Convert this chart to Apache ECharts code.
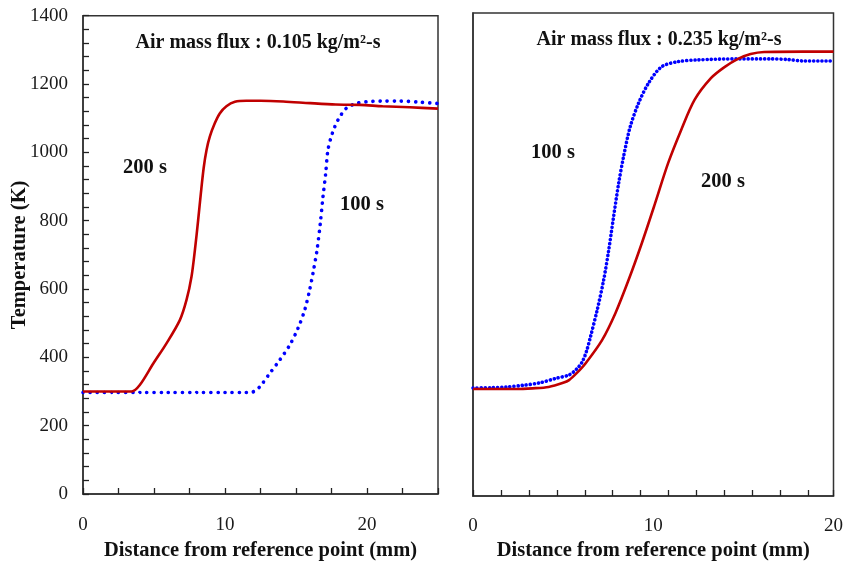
<!DOCTYPE html>
<html><head><meta charset="utf-8">
<script src="https://cdn.jsdelivr.net/npm/echarts@6/dist/echarts.min.js"></script>
<style>html,body{margin:0;padding:0;background:#fff}#c{width:846px;height:566px}</style>
</head><body><div id="c"></div>
<script>
// Left panel: air mass flux 0.105 kg/m2-s  [distance mm, temperature K]
const left200s = [[0,300],[1.5,300],[3,300],[3.42,300],[4.0,319],[4.95,382],[5.88,441],[6.82,509],[7.29,568],[7.64,636],[7.88,714],[8.11,802],[8.3,880],[8.5,955],[8.7,1007],[8.93,1046],[9.28,1085],[9.63,1114],[10.1,1135],[10.7,1148],[11.5,1151],[12.5,1151],[14.1,1149],[16,1144],[17.8,1140],[19.5,1139],[21.1,1135],[23,1132],[25,1128]];
const left100s = [[0,297],[2,297],[4,297],[6,297],[8,297],[10,297],[11.5,297],[11.98,299],[12.45,314],[13.15,353],[13.85,392],[14.56,436],[15.14,485],[15.61,538],[15.96,597],[16.24,656],[16.48,714],[16.71,792],[16.9,870],[17.09,938],[17.25,1007],[17.56,1056],[17.96,1095],[18.54,1129],[19.25,1143],[19.95,1148],[21,1150],[22.3,1150],[23.7,1147],[25,1143]];
// Right panel: air mass flux 0.235 kg/m2-s
const right100s = [[0,313],[1,314],[1.85,316],[2.8,321],[3.7,328],[4.6,341],[5.33,351],[5.75,368],[6.06,389],[6.3,420],[6.52,462],[6.89,539],[7.25,626],[7.53,713],[7.8,810],[8.08,906],[8.35,983],[8.72,1070],[9.18,1138],[9.73,1196],[10.46,1244],[11.37,1259],[12.47,1264],[14.7,1267],[16.5,1267],[17.5,1265],[18.3,1261],[20,1261]];
const right200s = [[0,310],[1,310],[2.4,310],[3.3,312],[4.2,316],[5.0,328],[5.33,336],[5.75,356],[6.25,385],[7.16,452],[7.9,530],[8.63,626],[9.36,732],[10.1,848],[10.82,964],[11.55,1061],[12.29,1148],[13.2,1211],[13.95,1243],[14.7,1267],[15.4,1281],[16.15,1287],[18.3,1288],[20,1288]];
const yTicks = [0,200,400,600,800,1000,1200,1400];
const xLabelsLeft = [0,10,20];
const xLabelsRight = [0,10,20];
const panelTitles = ['Air mass flux : 0.105 kg/m\u00B2-s','Air mass flux : 0.235 kg/m\u00B2-s'];
const curveLabels = ['200 s','100 s'];
const xName = 'Distance from reference point (mm)';
const yName = 'Temperature (K)';

const FONT = 'Liberation Serif';
const RED = '#c00000', BLUE = '#0000ff';
const chart = echarts.init(document.getElementById('c'));
const tickStyle = {show:true, inside:true, length:6, lineStyle:{color:'#222', width:1.3}};
const lbl = {fontFamily:FONT, fontSize:19, color:'#1a1a1a'};
const nameStyle = {fontFamily:FONT, fontSize:20.5, fontWeight:'bold', color:'#111'};
const SM = 0.3;
function txt(t, x, y, size) {
  return {type:'text', z:10, style:{text:t, x:x, y:y, align:'center', verticalAlign:'middle',
    fontFamily:FONT, fontWeight:'bold', fontSize:size, fill:'#111'}};
}

chart.setOption({
  animation:false,
  grid:[
    {left:83, top:15.7, right:408, bottom:72, show:true, borderColor:'#333', borderWidth:1.5, z:0},
    {left:473, top:13, right:9, bottom:70, show:true, borderColor:'#333', borderWidth:1.5, z:0}
  ],
  xAxis:[
    {type:'value', gridIndex:0, min:0, max:25, interval:2.5, splitLine:{show:false},
     axisLine:{show:true, lineStyle:{color:'#333', width:1.5}}, axisTick:tickStyle,
     axisLabel:Object.assign({margin:22, formatter:v => xLabelsLeft.includes(v) ? String(v) : ''}, lbl),
     name:xName, nameLocation:'middle', nameGap:46, nameMoveOverlap:false, nameTextStyle:nameStyle},
    {type:'value', gridIndex:1, min:0, max:20, interval:10, splitLine:{show:false},
     axisLine:{show:true, lineStyle:{color:'#333', width:1.5}}, axisTick:{show:false},
     axisLabel:Object.assign({margin:21, formatter:v => xLabelsRight.includes(v) ? String(v) : ''}, lbl),
     name:xName, nameLocation:'middle', nameGap:44, nameMoveOverlap:false, nameTextStyle:nameStyle},
    {type:'value', gridIndex:1, min:0, max:20, interval:1.55, position:'bottom', splitLine:{show:false},
     axisLine:{show:false}, axisTick:tickStyle, axisLabel:{show:false}}
  ],
  yAxis:[
    {type:'value', gridIndex:0, min:0, max:1400, interval:200, splitLine:{show:false},
     axisLine:{show:true, lineStyle:{color:'#333', width:1.5}}, axisTick:tickStyle,
     minorTick:{show:true, splitNumber:5, length:6, lineStyle:{color:'#222', width:1.3}},
     axisLabel:Object.assign({margin:15, formatter:v => yTicks.includes(v) ? String(v) : ''}, lbl),
     name:yName, nameLocation:'middle', nameGap:53, nameMoveOverlap:false, nameTextStyle:nameStyle},
    {type:'value', gridIndex:1, min:0, max:1400, interval:200, splitLine:{show:false},
     axisLine:{show:true, lineStyle:{color:'#333', width:1.5}}, axisTick:{show:false}, axisLabel:{show:false}}
  ],
  series:[
    {type:'line', xAxisIndex:0, yAxisIndex:0, data:left200s, showSymbol:false, smooth:SM,
     lineStyle:{color:RED, width:2.6}, z:3},
    {type:'line', xAxisIndex:0, yAxisIndex:0, data:left100s, showSymbol:false, smooth:SM,
     lineStyle:{color:BLUE, width:3.6, type:[0.1,7], cap:'round'}, z:2},
    {type:'line', xAxisIndex:1, yAxisIndex:1, data:right200s, showSymbol:false, smooth:SM,
     lineStyle:{color:RED, width:2.6}, z:3},
    {type:'line', xAxisIndex:1, yAxisIndex:1, data:right100s, showSymbol:false, smooth:SM,
     lineStyle:{color:BLUE, width:3.6, type:[0.1,4], cap:'round'}, z:2}
  ],
  graphic:[
    txt(panelTitles[0], 258, 43, 20),
    txt(panelTitles[1], 659, 40, 20),
    txt(curveLabels[0], 145, 168, 20.5),
    txt(curveLabels[1], 362, 205, 20.5),
    txt(curveLabels[1], 553, 153, 20.5),
    txt(curveLabels[0], 723, 182, 20.5)
  ]
});
</script></body></html>
